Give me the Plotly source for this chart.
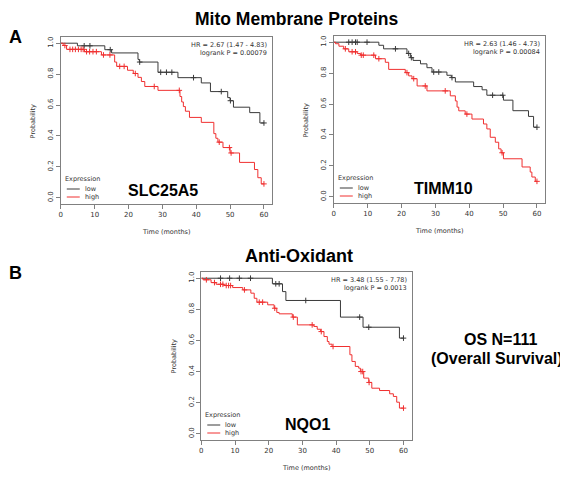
import numpy as np
import plotly.graph_objects as go

# ---------------- data ----------------
# SLC25A5
slc_low_t = [4.9, 13.0, 15.0, 22.8, 23.2, 28.7, 34.6, 41.5, 44.2, 49.3, 50.0, 51.0, 55.8, 58.8]
slc_low_s = [0.983, 0.958, 0.937, 0.895, 0.878, 0.812, 0.777, 0.743, 0.687, 0.648, 0.628, 0.586, 0.551, 0.484]
slc_low_c = [6.9, 8.6, 14.6, 23.3, 29.5, 31.2, 32.8, 39.2, 47.4, 50.1, 60.0]
slc_high_t = [0.7, 1.7, 7.0, 12.0, 15.9, 16.5, 19.7, 21.4, 22.8, 23.8, 24.8, 28.7, 35.2, 35.7,
              36.2, 36.8, 38.0, 41.5, 45.2, 45.8, 46.4, 47.9, 50.0, 52.8, 57.2, 58.2, 59.2]
slc_high_s = [0.985, 0.96, 0.945, 0.924, 0.878, 0.85, 0.825, 0.804, 0.779, 0.752, 0.72, 0.695, 0.655, 0.62,
              0.59, 0.56, 0.52, 0.488, 0.415, 0.385, 0.36, 0.325, 0.29, 0.229, 0.183, 0.13, 0.09]
slc_high_c = [1.2, 2.7, 3.5, 4.3, 5.2, 6.0, 6.6, 7.6, 8.5, 9.5, 10.5, 12.6, 14.5, 17.4, 18.7, 22.0,
              27.6, 35.0, 46.8, 49.8, 50.3, 60.0]

# TIMM10
tim_low_t = [13.3, 14.7, 21.6, 22.6, 23.4, 25.6, 27.5, 29.0, 33.4, 34.7, 35.9, 41.3, 43.8, 45.2,
             50.1, 52.9, 57.5, 59.0]
tim_low_s = [0.98, 0.957, 0.927, 0.9, 0.882, 0.86, 0.835, 0.807, 0.786, 0.771, 0.743, 0.713, 0.692, 0.657,
             0.625, 0.557, 0.52, 0.45]
tim_low_c = [4.4, 5.4, 6.4, 6.9, 9.8, 18.2, 22.1, 22.9, 29.5, 31.0, 34.9, 46.9, 49.9, 60.0]
tim_high_t = [0.5, 1.5, 2.9, 4.4, 6.9, 7.9, 12.3, 15.2, 16.2, 21.1, 22.1, 23.1, 24.6, 27.5, 34.4, 35.9,
              36.4, 36.9, 38.8, 40.8, 44.2, 45.2, 46.2, 47.7, 48.7, 49.4, 50.1, 55.6, 58.0, 58.5, 59.5]
tim_high_s = [0.99, 0.974, 0.957, 0.938, 0.927, 0.916, 0.893, 0.87, 0.824, 0.803, 0.782, 0.764, 0.717,
              0.685, 0.653, 0.62, 0.58, 0.556, 0.535, 0.503, 0.471, 0.439, 0.385, 0.353, 0.31, 0.285,
              0.246, 0.193, 0.16, 0.128, 0.1]
tim_high_c = [3.4, 5.4, 6.4, 8.1, 8.7, 11.8, 13.3, 21.6, 23.6, 27.0, 32.9, 39.3, 49.7, 60.0]

# NQO1
nqo_low_t = [21.1, 24.1, 25.1, 41.3, 48.0, 58.8]
nqo_low_s = [0.964, 0.914, 0.857, 0.75, 0.685, 0.615]
nqo_low_c = [5.7, 8.4, 11.3, 14.6, 22.1, 23.1, 31.0, 47.0, 49.7, 60.0]
nqo_high_t = [0.5, 2.9, 4.4, 6.7, 9.3, 12.3, 14.7, 15.7, 16.5, 19.7, 21.6, 22.4, 23.1, 27.0, 28.5,
              33.4, 34.4, 35.4, 36.4, 37.4, 37.9, 38.8, 44.1, 44.7, 45.7, 46.7, 47.2, 48.2, 49.7,
              50.6, 52.9, 55.9, 57.0, 58.0, 58.8]
nqo_high_s = [0.99, 0.972, 0.961, 0.953, 0.94, 0.925, 0.904, 0.871, 0.846, 0.829, 0.807, 0.78, 0.771,
              0.75, 0.70, 0.69, 0.672, 0.657, 0.625, 0.593, 0.576, 0.561, 0.508, 0.465, 0.433, 0.422,
              0.4, 0.358, 0.33, 0.293, 0.278, 0.257, 0.24, 0.203, 0.165]
nqo_high_c = [1.5, 3.9, 5.7, 6.4, 7.4, 8.1, 8.7, 12.8, 17.2, 18.2, 21.8, 27.3, 32.9, 35.6, 39.1,
              47.4, 47.9, 49.8, 60.0]

genes = ["SLC25A5", "TIMM10", "NQO1"]
hr_text = ["HR = 2.67 (1.47 - 4.83)", "HR = 2.63 (1.46 - 4.73)", "HR = 3.48 (1.55 - 7.78)"]
p_text = ["logrank P = 0.00079", "logrank P = 0.00084", "logrank P = 0.0013"]
x_ticks = [0, 10, 20, 30, 40, 50, 60]
y_ticks = [0.0, 0.2, 0.4, 0.6, 0.8, 1.0]

panels = [
    (slc_low_t, slc_low_s, slc_low_c, slc_high_t, slc_high_s, slc_high_c),
    (tim_low_t, tim_low_s, tim_low_c, tim_high_t, tim_high_s, tim_high_c),
    (nqo_low_t, nqo_low_s, nqo_low_c, nqo_high_t, nqo_high_s, nqo_high_c),
]

# ---------------- layout geometry (screen pixels of the 568x480 window) ----------------
OFF = 8                      # the page body has an 8px margin
W, H = 568 - OFF, 480 - OFF  # figure size so that it fits the window exactly
boxes = [(59, 271, 37, 204), (333, 545, 36, 203), (200, 411, 272, 440)]  # left, right, top, bottom


def px(x):
    return (x - OFF) / W


def py(y):
    return 1 - (y - OFF) / H


LOW_C = "#3a3a3a"
HIGH_C = "#f03030"
AX_C = "#808080"
TICK_FONT = dict(family="DejaVu Sans, sans-serif", size=7, color="#333333")
SMALL_FONT = dict(family="DejaVu Sans, sans-serif", size=6.5, color="#333333")
BOLD_FAM = "Liberation Sans, Arial, sans-serif"


def step_at(times, surv, t):
    i = np.searchsorted(np.array(times), t, side="right")
    return 1.0 if i == 0 else surv[i - 1]


def ann(text, x, y, font, xanchor="center", angle=0):
    return dict(x=px(x), y=py(y), xref="paper", yref="paper", text=text, showarrow=False,
                xanchor=xanchor, yanchor="middle", textangle=angle, font=font, borderpad=0)


fig = go.Figure()
annotations = []
shapes = []

for k, (lt, ls, lc, ht, hs, hc) in enumerate(panels):
    xa = "x" if k == 0 else f"x{k+1}"
    ya = "y" if k == 0 else f"y{k+1}"
    for t, s, c, col in ((lt, ls, lc, LOW_C), (ht, hs, hc, HIGH_C)):
        xs = [0] + list(t) + [60]
        ys = [1.0] + list(s) + [s[-1]]
        fig.add_trace(go.Scatter(x=xs, y=ys, mode="lines", line=dict(color=col, width=1, shape="hv"),
                                 xaxis=xa, yaxis=ya, showlegend=False, hoverinfo="skip"))
        cy = [step_at(t, s, v) for v in c]
        fig.add_trace(go.Scatter(x=c, y=cy, mode="markers",
                                 marker=dict(symbol="cross-thin", size=4, line=dict(color=col, width=1)),
                                 xaxis=xa, yaxis=ya, showlegend=False, hoverinfo="skip"))

    L, R, T, B = boxes[k]
    xkey = "xaxis" if k == 0 else f"xaxis{k+1}"
    ykey = "yaxis" if k == 0 else f"yaxis{k+1}"
    fig.update_layout(**{
        xkey: dict(domain=[px(L), px(R)], range=[0, 62.4], anchor=ya, tickvals=x_ticks,
                   showline=True, mirror=True, linecolor=AX_C, linewidth=1, ticks="outside",
                   ticklen=4, tickcolor=AX_C, tickfont=TICK_FONT, showgrid=False, zeroline=False),
        ykey: dict(domain=[py(B), py(T)], range=[-0.04, 1.04], anchor=xa, tickvals=y_ticks,
                   ticktext=[f"{v:.1f}" for v in y_ticks], tickangle=-90,
                   showline=True, mirror=True, linecolor=AX_C, linewidth=1, ticks="outside",
                   ticklen=4, tickcolor=AX_C, tickfont=TICK_FONT, showgrid=False, zeroline=False),
    })

    annotations.append(ann(hr_text[k], R - 4, T + 8, SMALL_FONT, xanchor="right"))
    annotations.append(ann(p_text[k], R - 4, T + 16, SMALL_FONT, xanchor="right"))
    annotations.append(ann("Time (months)", (L + R) / 2, B + 28, SMALL_FONT))
    annotations.append(ann("Probability", L - 27, (T + B) / 2, SMALL_FONT, angle=-90))
    annotations.append(ann("Expression", L + 3, B - 25, SMALL_FONT, xanchor="left"))
    for j, (name, col) in enumerate((("low", LOW_C), ("high", HIGH_C))):
        yy = B - 15 + 8 * j
        annotations.append(ann(name, L + 23, yy, SMALL_FONT, xanchor="left"))
        shapes.append(dict(type="line", xref="paper", yref="paper", x0=px(L + 6), x1=px(L + 19),
                           y0=py(yy), y1=py(yy), line=dict(color=col, width=1)))
    gx = [162, 443, 307][k]
    gy = [190, 188, 424][k]
    annotations.append(ann(f"<b>{genes[k]}</b>", gx, gy, dict(family=BOLD_FAM, size=16, color="black")))

big = dict(family=BOLD_FAM, size=18, color="black")
title_font = dict(family=BOLD_FAM, size=17.5, color="black")
mid = dict(family=BOLD_FAM, size=16, color="black")
for txt, x, y, f in (("Mito Membrane Proteins", 296, 19, title_font), ("A", 14, 37, big),
                     ("Anti-Oxidant", 298, 256, big), ("B", 14, 273, big),
                     ("OS N=111", 500, 339, mid), ("(Overall Survival)", 497, 358, mid)):
    annotations.append(ann(f"<b>{txt}</b>", x, y, f))

fig.update_layout(width=W, height=H, margin=dict(l=0, r=0, t=0, b=0), paper_bgcolor="white",
                  plot_bgcolor="white", annotations=annotations, shapes=shapes)

fig.write_html("out.html")
